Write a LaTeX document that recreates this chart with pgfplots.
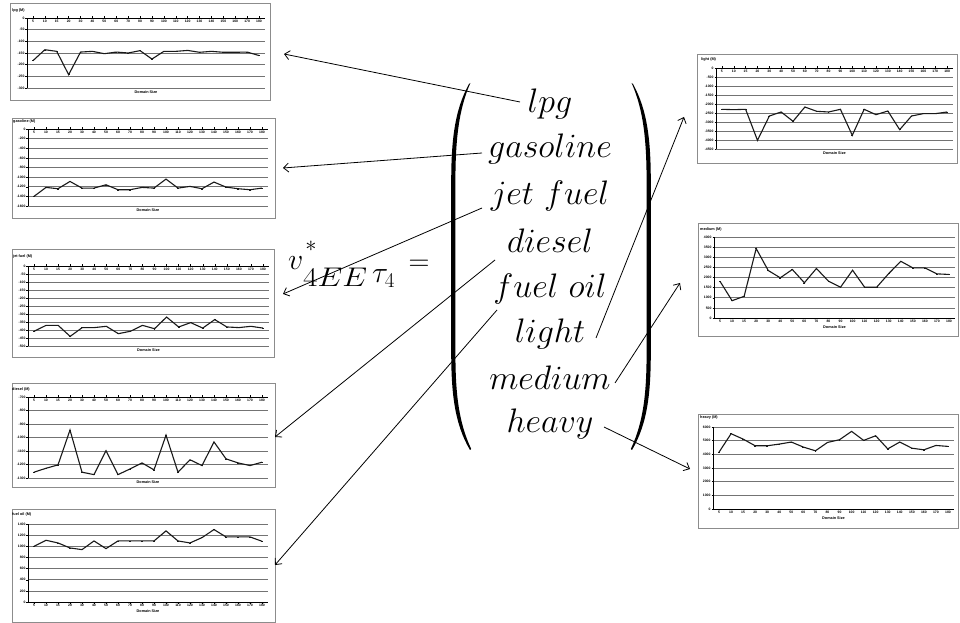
\RequirePackage{fix-cm}
\documentclass[border=0pt]{standalone}
\usepackage{fontspec}
\usepackage{graphicx}
\usepackage{pgfplots}
\usepackage{pgfplotstable}
\pgfplotsset{compat=1.18}
\usetikzlibrary{arrows.meta}
\newfontfamily\xl{Liberation Sans}
\newcommand\tk{\xl\bfseries\fontsize{3.4}{3.8}\selectfont}
\newcommand\tl{\xl\bfseries\fontsize{3.8}{4.2}\selectfont}
\newcommand\hugemath{\fontsize{34}{40}\selectfont}

\pgfplotstableread{
i lpg gas jet diesel fuel light medium heavy
0 -183 -1400 -408 -1257 1000 -2296 1810 4160
1 -136 -1214 -371 -1228 1108 -2315 855 5510
2 -143 -1241 -371 -1203 1060 -2296 1070 5115
3 -243 -1090 -440 -945 970 -4019 3430 4625
4 -146 -1228 -385 -1257 940 -2667 2345 4625
5 -143 -1228 -385 -1275 1096 -2444 1985 4750
6 -153 -1159 -377 -1098 958 -2963 2395 4900
7 -146 -1262 -423 -1275 1096 -2167 1740 4530
8 -150 -1262 -408 -1233 1096 -2407 2445 4260
9 -140 -1214 -371 -1188 1096 -2444 1820 4870
10 -176 -1228 -392 -1240 1096 -2296 1520 5070
11 -143 -1041 -319 -983 1276 -3741 2360 5680
12 -143 -1228 -381 -1257 1096 -2296 1520 5020
13 -139 -1193 -354 -1165 1060 -2593 1520 5360
14 -147 -1241 -388 -1208 1156 -2389 2195 4400
15 -143 -1103 -335 -1033 1300 -3426 2800 4900
16 -147 -1207 -381 -1158 1168 -2667 2475 4450
17 -147 -1241 -385 -1188 1168 -2537 2475 4330
18 -146 -1262 -377 -1208 1168 -2537 2180 4650
19 -161 -1228 -388 -1183 1090 -2444 2150 4580
}\data

\pgfplotsset{
 mini/.style={
  scale only axis, anchor=south west,
  xmin=-0.5, xmax=19.5, xtick={0,...,19},
  xticklabels={5,10,15,20,30,40,50,60,70,80,90,100,110,120,130,140,150,160,170,180},
  axis y line*=left,
  ymajorgrids, grid style={black!55, line width=0.6pt},
  tick label style={font=\tk, inner sep=0.8pt},
  tick align=outside, major tick length=1.5pt, tick style={black, line width=0.4pt},
  axis line style={black, line width=0.5pt},
  /pgf/number format/assume math mode=true,
  /pgf/number format/1000 sep={},
  xlabel={Domain Size},
  xlabel style={font=\tl, at={(axis description cs:0.5,0)}, anchor=north, inner sep=0pt},
 },
 negx/.style={axis x line*=top, xticklabel style={anchor=north, yshift=-3pt}, xlabel style={yshift=-2.5pt}},
 posx/.style={axis x line*=bottom, xlabel style={yshift=-7.5pt}},
 ser/.style={black!90, line width=1.1pt, mark=-, mark size=0.9pt, mark options={line width=0.4pt}},
}

\begin{document}
\begin{tikzpicture}
\begin{scope}[x=1pt,y=1pt]
\path[use as bounding box] (0,0) rectangle (960,623);
% chart frames
\foreach \a/\b/\c/\d in {10/523/270/620, 12/405/275/505, 12/266/274/374, 12/136/275/240, 12/1/275/114, 697/460/957/569, 698/287/958/400, 698/95/958/209}
  \draw[black!45, line width=0.6pt, fill=white] (\a,\b) rectangle (\c,\d);
% titles
\foreach \x/\y/\t in {12/612/lpg (M), 13/501/gasoline (M), 13/366/jet fuel (M), 12/233/diesel (M), 12/108/fuel oil (M), 701/563/light (M), 700/393/medium (M), 700/205/heavy (M)}
  \node[anchor=west, inner sep=0pt, font=\tl] at (\x,\y) {\t};
\end{scope}

\begin{axis}[mini, negx, at={(27pt,535pt)}, width=238pt, height=70pt, ymin=-300, ymax=0, ytick distance=50]
\addplot[ser] table[x=i,y=lpg]{\data};
\end{axis}
\begin{axis}[mini, negx, at={(28pt,417pt)}, width=240pt, height=77pt, ymin=-1600, ymax=0, ytick distance=200]
\addplot[ser] table[x=i,y=gas]{\data};
\end{axis}
\begin{axis}[mini, negx, at={(28pt,277pt)}, width=241pt, height=80pt, ymin=-500, ymax=0, ytick distance=50]
\addplot[ser] table[x=i,y=jet]{\data};
\end{axis}
\begin{axis}[mini, negx, at={(28pt,145pt)}, width=240pt, height=81pt, ymin=-1300, ymax=-700, ytick distance=100]
\addplot[ser] table[x=i,y=diesel]{\data};
\end{axis}
\begin{axis}[mini, posx, at={(28pt,21pt)}, width=240pt, height=78pt, ymin=0, ymax=1400, ytick distance=200]
\addplot[ser] table[x=i,y=fuel]{\data};
\end{axis}
\begin{axis}[mini, negx, at={(716pt,474pt)}, width=237pt, height=81pt, ymin=-4500, ymax=0, ytick distance=500]
\addplot[ser] table[x=i,y=light]{\data};
\end{axis}
\begin{axis}[mini, posx, at={(714pt,305pt)}, width=241pt, height=81pt, ymin=0, ymax=4000, ytick distance=500]
\addplot[ser] table[x=i,y=medium]{\data};
\end{axis}
\begin{axis}[mini, posx, at={(713pt,114pt)}, width=241pt, height=82pt, ymin=0, ymax=6000, ytick distance=1000]
\addplot[ser] table[x=i,y=heavy]{\data};
\end{axis}

\begin{scope}[x=1pt,y=1pt]
% vector entries
\foreach \y/\w in {510/lpg, 465/gasoline, 418/jet\ fuel, 370/diesel, 325/fuel\ oil, 280/light, 233/medium, 190/heavy}
  \node[anchor=base, inner sep=0pt] at (550,\y) {\hugemath$\w$};
% parentheses
\def\paren{(469,539) .. controls (454,512) and (451.2,480) .. (451.2,440) -- (451.2,272) .. controls (451.2,232) and (454,200) .. (470,173) -- (471.2,174) .. controls (458,202) and (455.4,232) .. (455.4,272) -- (455.4,440) .. controls (455.4,480) and (458,512) .. (470.4,540) -- cycle}
\fill[black] \paren;
\begin{scope}[xshift=1102pt, xscale=-1]
\fill[black] \paren;
\end{scope}
% left-hand side
\node[anchor=base west, inner sep=0pt] at (288,353) {\fontsize{30}{30}\selectfont$v$};
\node[inner sep=0pt] at (311,377) {\fontsize{32}{32}\selectfont$\scriptstyle *$};
\node[anchor=base west, inner sep=0pt] at (303,336) {\scalebox{1.17}[1]{\fontsize{27}{27}\selectfont$4EE$}};
\node[anchor=base west, inner sep=0pt] at (372,340) {\fontsize{30}{30}\selectfont$\tau_4$};
\node[inner sep=0pt] at (419,358) {\fontsize{29}{29}\selectfont$=$};
% arrows
\begin{scope}[line width=0.8pt, -{Straight Barb[length=5pt,width=9pt]}]
\draw (520,521) -- (284,569);
\draw (482,470) -- (283,455);
\draw (482,415) -- (283,329);
\draw (495,363) -- (275,186);
\draw (497,313) -- (275,58);
\draw (596,285) -- (684,506);
\draw (615,240) -- (680,340);
\draw (604,196) -- (690,154);
\end{scope}
\end{scope}
\end{tikzpicture}
\end{document}
